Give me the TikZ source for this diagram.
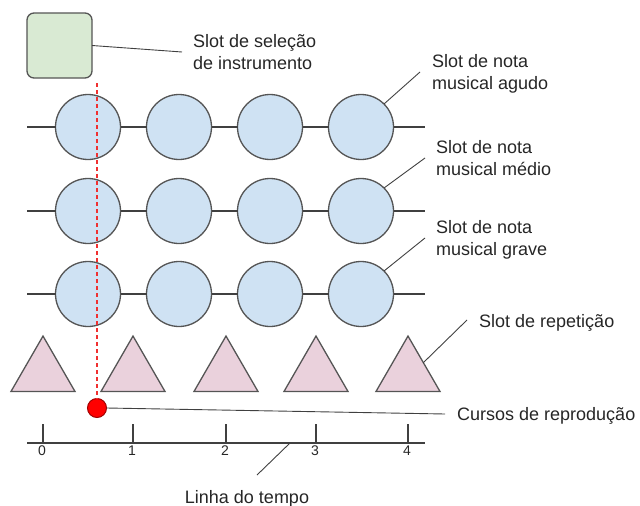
\documentclass[tikz,border=0pt]{standalone}
\usepackage{fontspec}
\setmainfont{Liberation Sans}
\usetikzlibrary{shapes.geometric,calc}
\definecolor{edgegray}{HTML}{555555}
\definecolor{leadgray}{HTML}{404040}
\definecolor{notefill}{HTML}{CFE2F3}
\definecolor{repfill}{HTML}{EAD1DC}
\definecolor{instfill}{HTML}{D9EAD3}
\definecolor{cursorred}{HTML}{FF0000}
\definecolor{cursoredge}{HTML}{A00000}
\definecolor{dashred}{HTML}{F03030}
\tikzset{
  note/.style={circle,draw=edgegray,fill=notefill,line width=1.3pt,minimum size=65pt,inner sep=0pt,outer sep=0pt},
  rep/.style={regular polygon,regular polygon sides=3,draw=edgegray,fill=repfill,line width=1.3pt,minimum size=73.9pt,inner sep=0pt,outer sep=0pt},
  inst/.style={rectangle,rounded corners=7pt,draw=edgegray,fill=instfill,line width=1.3pt,minimum size=65pt,inner sep=0pt,outer sep=0pt},
  rail/.style={draw=leadgray,line width=1.3pt},
  leader/.style={draw=leadgray,line width=0.9pt},
  cursorline/.style={draw=dashred,line width=1.2pt,dash pattern=on 4pt off 3pt},
  lbl/.style={anchor=base west,inner sep=0pt,font=\fontsize{18pt}{22pt}\selectfont,text=black!85},
  digit/.style={anchor=north,inner sep=0pt,font=\fontsize{14pt}{16pt}\selectfont,text=black!85},
  cursor/.style={circle,draw=cursoredge,fill=cursorred,line width=1pt,minimum size=19pt,inner sep=0pt,outer sep=0pt}
}
\begin{document}
\begin{tikzpicture}[x=1pt,y=-1pt]
\useasboundingbox (0,0) rectangle (640,506);
% instrument slot
\node[inst] (inst) at (59.5,45.5) {};
\coordinate (instend) at (182,52);
\draw[leader] (inst.east) -- (instend);
\node[lbl] (instA) at (193,47) {Slot de seleção};
\node[lbl] (instB) at (193,69) {de instrumento};
% note rows
\foreach \r/\y in {1/127,2/211,3/294}{
  \foreach \c/\x in {1/88,2/179,3/270,4/361}{
    \node[note] (c\r\c) at (\x,\y) {};
  }
  \coordinate (ls\r) at (27,\y);
  \coordinate (le\r) at (425,\y);
  \draw[rail] (ls\r) -- (c\r1) -- (c\r2) -- (c\r3) -- (c\r4) -- (le\r);
}
% note labels
\coordinate (agA) at (420,72);
\draw[leader] (agA) -- (c14.45);
\node[lbl] (ag1) at (432,67) {Slot de nota};
\node[lbl] (ag2) at (432,89) {musical agudo};
\coordinate (meA) at (425,158);
\draw[leader] (meA) -- (c24.45);
\node[lbl] (me1) at (436,153) {Slot de nota};
\node[lbl] (me2) at (436,175) {musical médio};
\coordinate (grA) at (425,238);
\draw[leader] (grA) -- (c34.45);
\node[lbl] (gr1) at (436,233) {Slot de nota};
\node[lbl] (gr2) at (436,255) {musical grave};
% repetition slots
\foreach \i/\x in {1/43,2/133,3/226,4/316,5/408}{
  \node[rep] (t\i) at (\x,373) {};
}
\coordinate (repA) at (467,320);
\draw[leader] (repA) -- ($(t5.corner 1)!0.48!(t5.corner 3)$);
\node[lbl] (rep) at (479,327) {Slot de repetição};
% playback cursor
\coordinate (dashtop) at (97,83);
\node[cursor] (dot) at (97,408) {};
\draw[cursorline] (dashtop) -- (dot.north);
\coordinate (curA) at (445,414);
\draw[leader] (dot.east) -- (curA);
\node[lbl] (cur) at (457,420) {Cursos de reprodução};
% timeline
\coordinate (tls) at (27,443);
\coordinate (tle) at (425,443);
\draw[rail] (tls) -- (tle);
\foreach \i/\x in {0/43,1/133,2/226,3/316,4/408}{
  \coordinate (tk\i) at (\x,424);
  \coordinate (tb\i) at (\x,443);
  \draw[rail] (tk\i) -- (tb\i);
  \node[digit] (d\i) at (\x-1,446) {\i};
}
\coordinate (tlA) at (290,443);
\coordinate (tlB) at (257,475);
\draw[leader] (tlA) -- (tlB);
\node[lbl,anchor=base] (tl) at (247,503) {Linha do tempo};
\end{tikzpicture}
\end{document}
